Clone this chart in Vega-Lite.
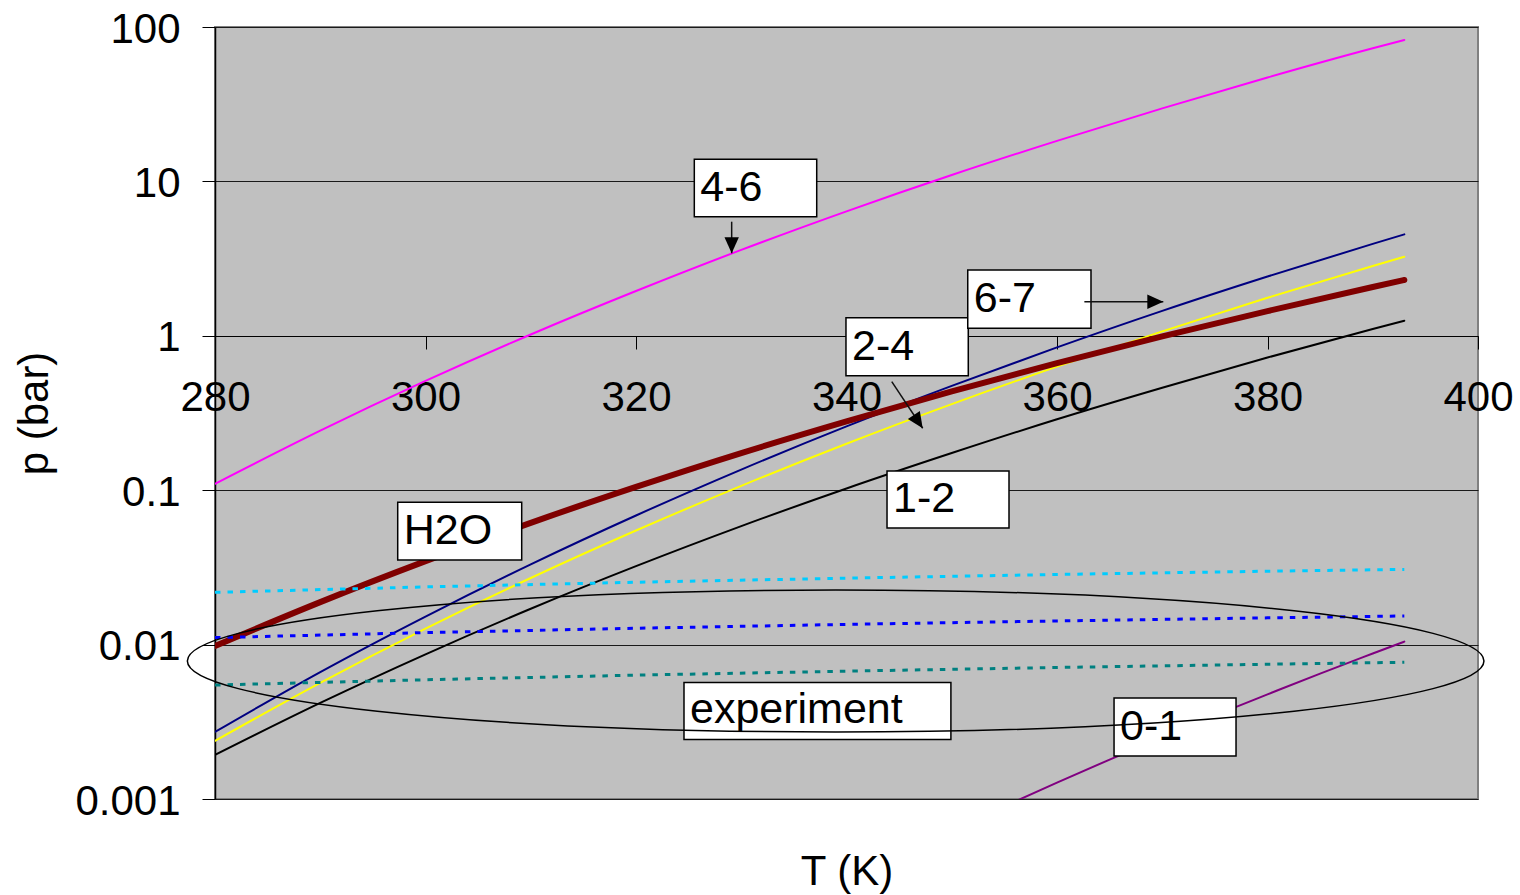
{
  "$schema": "https://vega.github.io/schema/vega-lite/v6.json",
  "width": 1263,
  "height": 772,
  "autosize": {"type": "none"},
  "padding": {"left": 215, "top": 27, "right": 42, "bottom": 96},
  "background": "white",
  "config": {
    "view": {"fill": "#C0C0C0", "stroke": "#808080", "strokeWidth": 2},
    "font": "Liberation Sans",
    "axis": {
      "labelFont": "Liberation Sans",
      "titleFont": "Liberation Sans",
      "labelFontSize": 42,
      "titleFontSize": 42,
      "labelColor": "black",
      "titleColor": "black",
      "titleFontWeight": "normal"
    }
  },
  "resolve": {"axis": {"x": "independent", "y": "shared"}},
  "datasets": {
    "curves": [
      {"s": "4-6", "T": 280, "p": 0.110}, {"s": "4-6", "T": 290, "p": 0.243}, {"s": "4-6", "T": 300, "p": 0.510}, {"s": "4-6", "T": 310, "p": 1.02}, {"s": "4-6", "T": 320, "p": 1.95}, {"s": "4-6", "T": 330, "p": 3.60}, {"s": "4-6", "T": 340, "p": 6.40}, {"s": "4-6", "T": 350, "p": 11.0}, {"s": "4-6", "T": 360, "p": 18.3}, {"s": "4-6", "T": 370, "p": 29.7}, {"s": "4-6", "T": 380, "p": 47.1}, {"s": "4-6", "T": 390, "p": 72.8}, {"s": "4-6", "T": 393, "p": 82.4},
      {"s": "1-2", "T": 280, "p": 0.00193}, {"s": "1-2", "T": 290, "p": 0.00419}, {"s": "1-2", "T": 300, "p": 0.00865}, {"s": "1-2", "T": 310, "p": 0.01706}, {"s": "1-2", "T": 320, "p": 0.0322}, {"s": "1-2", "T": 330, "p": 0.0585}, {"s": "1-2", "T": 340, "p": 0.1026}, {"s": "1-2", "T": 350, "p": 0.174}, {"s": "1-2", "T": 360, "p": 0.288}, {"s": "1-2", "T": 370, "p": 0.461}, {"s": "1-2", "T": 380, "p": 0.723}, {"s": "1-2", "T": 390, "p": 1.107}, {"s": "1-2", "T": 393, "p": 1.253},
      {"s": "0-1", "T": 350, "p": 0.000625}, {"s": "0-1", "T": 355, "p": 0.000897}, {"s": "0-1", "T": 360, "p": 0.001277}, {"s": "0-1", "T": 365, "p": 0.0018}, {"s": "0-1", "T": 370, "p": 0.00251}, {"s": "0-1", "T": 375, "p": 0.00348}, {"s": "0-1", "T": 380, "p": 0.00476}, {"s": "0-1", "T": 385, "p": 0.00649}, {"s": "0-1", "T": 390, "p": 0.00875}, {"s": "0-1", "T": 393, "p": 0.01045},
      {"s": "2-4", "T": 280, "p": 0.00238}, {"s": "2-4", "T": 290, "p": 0.00565}, {"s": "2-4", "T": 300, "p": 0.01268}, {"s": "2-4", "T": 310, "p": 0.0270}, {"s": "2-4", "T": 320, "p": 0.0548}, {"s": "2-4", "T": 330, "p": 0.1067}, {"s": "2-4", "T": 340, "p": 0.200}, {"s": "2-4", "T": 350, "p": 0.361}, {"s": "2-4", "T": 360, "p": 0.631}, {"s": "2-4", "T": 370, "p": 1.069}, {"s": "2-4", "T": 380, "p": 1.762}, {"s": "2-4", "T": 390, "p": 2.83}, {"s": "2-4", "T": 393, "p": 3.25},
      {"s": "6-7", "T": 280, "p": 0.00272}, {"s": "6-7", "T": 290, "p": 0.00664}, {"s": "6-7", "T": 300, "p": 0.0152}, {"s": "6-7", "T": 310, "p": 0.0331}, {"s": "6-7", "T": 320, "p": 0.0686}, {"s": "6-7", "T": 330, "p": 0.136}, {"s": "6-7", "T": 340, "p": 0.259}, {"s": "6-7", "T": 350, "p": 0.474}, {"s": "6-7", "T": 360, "p": 0.841}, {"s": "6-7", "T": 370, "p": 1.45}, {"s": "6-7", "T": 380, "p": 2.42}, {"s": "6-7", "T": 390, "p": 3.94}, {"s": "6-7", "T": 393, "p": 4.54},
      {"s": "H2O", "T": 280, "p": 0.0098}, {"s": "H2O", "T": 290, "p": 0.01884}, {"s": "H2O", "T": 300, "p": 0.0347}, {"s": "H2O", "T": 310, "p": 0.0615}, {"s": "H2O", "T": 320, "p": 0.105}, {"s": "H2O", "T": 330, "p": 0.174}, {"s": "H2O", "T": 340, "p": 0.279}, {"s": "H2O", "T": 350, "p": 0.436}, {"s": "H2O", "T": 360, "p": 0.665}, {"s": "H2O", "T": 370, "p": 0.991}, {"s": "H2O", "T": 380, "p": 1.445}, {"s": "H2O", "T": 390, "p": 2.07}, {"s": "H2O", "T": 393, "p": 2.30}
    ],
    "exp": [
      {"s": "exp1", "T": 280, "p": 0.0218}, {"s": "exp1", "T": 300, "p": 0.02364}, {"s": "exp1", "T": 320, "p": 0.02535}, {"s": "exp1", "T": 340, "p": 0.02694}, {"s": "exp1", "T": 360, "p": 0.02846}, {"s": "exp1", "T": 380, "p": 0.02988}, {"s": "exp1", "T": 393, "p": 0.0307},
      {"s": "exp2", "T": 280, "p": 0.0111}, {"s": "exp2", "T": 300, "p": 0.01196}, {"s": "exp2", "T": 320, "p": 0.01276}, {"s": "exp2", "T": 340, "p": 0.01352}, {"s": "exp2", "T": 360, "p": 0.01423}, {"s": "exp2", "T": 380, "p": 0.0149}, {"s": "exp2", "T": 393, "p": 0.01532},
      {"s": "exp3", "T": 280, "p": 0.00547}, {"s": "exp3", "T": 300, "p": 0.00592}, {"s": "exp3", "T": 320, "p": 0.00634}, {"s": "exp3", "T": 340, "p": 0.00673}, {"s": "exp3", "T": 360, "p": 0.00711}, {"s": "exp3", "T": 380, "p": 0.00746}, {"s": "exp3", "T": 393, "p": 0.00768}
    ],
    "labels": [
      {"label": "4-6", "T1": 325.54, "T2": 337.17, "p1": 13.90, "p2": 5.906},
      {"label": "2-4", "T1": 339.95, "T2": 351.57, "p1": 1.310, "p2": 0.5515},
      {"label": "6-7", "T1": 351.52, "T2": 363.23, "p1": 2.668, "p2": 1.118},
      {"label": "H2O", "T1": 297.36, "T2": 309.14, "p1": 0.08348, "p2": 0.03531},
      {"label": "1-2", "T1": 343.85, "T2": 355.44, "p1": 0.1331, "p2": 0.05689},
      {"label": "experiment", "T1": 324.56, "T2": 349.92, "p1": 0.005683, "p2": 0.002429},
      {"label": "0-1", "T1": 365.42, "T2": 377.01, "p1": 0.004510, "p2": 0.001899}
    ],
    "arrows": [
      {"id": "a46", "T1": 329.09, "p1": 5.483, "T2": 329.09, "p2": 3.422},
      {"id": "a67", "T1": 362.60, "p1": 1.663, "T2": 370.10, "p2": 1.663},
      {"id": "a24", "T1": 344.30, "p1": 0.5043, "T2": 347.24, "p2": 0.2518}
    ]
  },
  "layer": [
    {
      "data": {"name": "curves"},
      "mark": {"type": "line", "interpolate": "monotone", "clip": true, "strokeCap": "round"},
      "encoding": {
        "x": {
          "field": "T", "type": "quantitative",
          "scale": {"domain": [280, 400], "nice": false, "zero": false},
          "axis": {
            "orient": "bottom",
            "title": null, "values": [280, 300, 320, 340, 360, 380, 400], "offset": -463,
            "grid": false, "tickSize": 13, "tickColor": "#000", "domainColor": "#000", "domainWidth": 1,
            "labelPadding": 28, "labelFlush": false, "labelOverlap": false
          }
        },
        "y": {
          "field": "p", "type": "quantitative",
          "scale": {"type": "log", "domain": [0.001, 100], "nice": false},
          "axis": {
            "orient": "left",
            "title": "p (bar)", "values": [0.001, 0.01, 0.1, 1, 10, 100], "format": "~g",
            "grid": true, "gridColor": "#1a1a1a", "gridWidth": 1,
            "tickSize": 13, "tickColor": "#000", "domainColor": "#000", "domainWidth": 1.5,
            "labelPadding": 22, "labelOffset": 2, "titlePadding": 18, "labelOverlap": false
          }
        },
        "color": {"field": "s", "type": "nominal", "legend": null,
          "scale": {"domain": ["4-6", "1-2", "0-1", "2-4", "6-7", "H2O", "exp1", "exp2", "exp3"], "range": ["#FF00FF", "#000000", "#800080", "#FFFF00", "#000080", "#800000", "#00CCFF", "#0000FF", "#008080"]}},
        "strokeWidth": {"field": "s", "type": "nominal", "legend": null,
          "scale": {"type": "ordinal", "domain": ["4-6", "1-2", "0-1", "2-4", "6-7", "H2O"], "range": [2, 2, 2, 2, 2, 6]}}
      }
    },
    {
      "data": {"name": "exp"},
      "mark": {"type": "line", "clip": true, "strokeWidth": 3, "strokeDash": [5.5, 7], "strokeCap": "butt"},
      "encoding": {
        "x": {
          "field": "T", "type": "quantitative",
          "scale": {"domain": [280, 400], "nice": false, "zero": false},
          "axis": {"orient": "bottom", "title": "T (K)", "labels": false, "ticks": false, "domain": false, "grid": false, "titlePadding": 52}
        },
        "y": {"field": "p", "type": "quantitative", "scale": {"type": "log", "domain": [0.001, 100], "nice": false}},
        "color": {"field": "s", "type": "nominal", "legend": null,
          "scale": {"domain": ["4-6", "1-2", "0-1", "2-4", "6-7", "H2O", "exp1", "exp2", "exp3"], "range": ["#FF00FF", "#000000", "#800080", "#FFFF00", "#000080", "#800000", "#00CCFF", "#0000FF", "#008080"]}}
      }
    },
    {
      "data": {"name": "labels"},
      "mark": {"type": "rect", "fill": "white", "stroke": "black", "strokeWidth": 1.5},
      "encoding": {
        "x": {"field": "T1", "type": "quantitative", "scale": {"domain": [280, 400], "nice": false, "zero": false}, "axis": null},
        "x2": {"field": "T2"},
        "y": {"field": "p1", "type": "quantitative", "scale": {"type": "log", "domain": [0.001, 100], "nice": false}},
        "y2": {"field": "p2"}
      }
    },
    {
      "data": {"name": "labels"},
      "mark": {"type": "text", "align": "left", "baseline": "alphabetic", "dx": 6, "dy": -16, "fontSize": 43, "font": "Liberation Sans", "color": "black"},
      "encoding": {
        "x": {"field": "T1", "type": "quantitative", "scale": {"domain": [280, 400], "nice": false, "zero": false}, "axis": null},
        "y": {"field": "p2", "type": "quantitative", "scale": {"type": "log", "domain": [0.001, 100], "nice": false}},
        "text": {"field": "label"}
      }
    },
    {
      "data": {"name": "arrows"},
      "mark": {"type": "rule", "strokeWidth": 1.5, "color": "#111111"},
      "encoding": {
        "x": {"field": "T1", "type": "quantitative", "scale": {"domain": [280, 400], "nice": false, "zero": false}, "axis": null},
        "x2": {"field": "T2"},
        "y": {"field": "p1", "type": "quantitative", "scale": {"type": "log", "domain": [0.001, 100], "nice": false}},
        "y2": {"field": "p2"}
      }
    },
    {
      "data": {"name": "arrows"},
      "transform": [{"filter": "datum.id == 'a46'"}],
      "mark": {"type": "point", "shape": "M0,0L-0.45,1L0.45,1Z", "size": 1024, "filled": true, "color": "#000000", "opacity": 1, "angle": 180},
      "encoding": {
        "x": {"field": "T2", "type": "quantitative", "scale": {"domain": [280, 400], "nice": false, "zero": false}, "axis": null},
        "y": {"field": "p2", "type": "quantitative", "scale": {"type": "log", "domain": [0.001, 100], "nice": false}}
      }
    },
    {
      "data": {"name": "arrows"},
      "transform": [{"filter": "datum.id == 'a67'"}],
      "mark": {"type": "point", "shape": "M0,0L-0.45,1L0.45,1Z", "size": 1024, "filled": true, "color": "#000000", "opacity": 1, "angle": 90},
      "encoding": {
        "x": {"field": "T2", "type": "quantitative", "scale": {"domain": [280, 400], "nice": false, "zero": false}, "axis": null},
        "y": {"field": "p2", "type": "quantitative", "scale": {"type": "log", "domain": [0.001, 100], "nice": false}}
      }
    },
    {
      "data": {"name": "arrows"},
      "transform": [{"filter": "datum.id == 'a24'"}],
      "mark": {"type": "point", "shape": "M0,0L-0.45,1L0.45,1Z", "size": 1024, "filled": true, "color": "#000000", "opacity": 1, "angle": 146.4},
      "encoding": {
        "x": {"field": "T2", "type": "quantitative", "scale": {"domain": [280, 400], "nice": false, "zero": false}, "axis": null},
        "y": {"field": "p2", "type": "quantitative", "scale": {"type": "log", "domain": [0.001, 100], "nice": false}}
      }
    },
    {
      "data": {"values": [{"T": 338.97, "p": 0.00783}]},
      "mark": {
        "type": "point",
        "shape": "M-1,0C-1,-0.0605,-0.5523,-0.1095,0,-0.1095C0.5523,-0.1095,1,-0.0605,1,0C1,0.0605,0.5523,0.1095,0,0.1095C-0.5523,0.1095,-1,0.0605,-1,0Z",
        "size": 1681171, "filled": false, "color": "#000000", "strokeWidth": 1.5, "opacity": 1
      },
      "encoding": {
        "x": {"field": "T", "type": "quantitative", "scale": {"domain": [280, 400], "nice": false, "zero": false}, "axis": null},
        "y": {"field": "p", "type": "quantitative", "scale": {"type": "log", "domain": [0.001, 100], "nice": false}}
      }
    }
  ]
}
